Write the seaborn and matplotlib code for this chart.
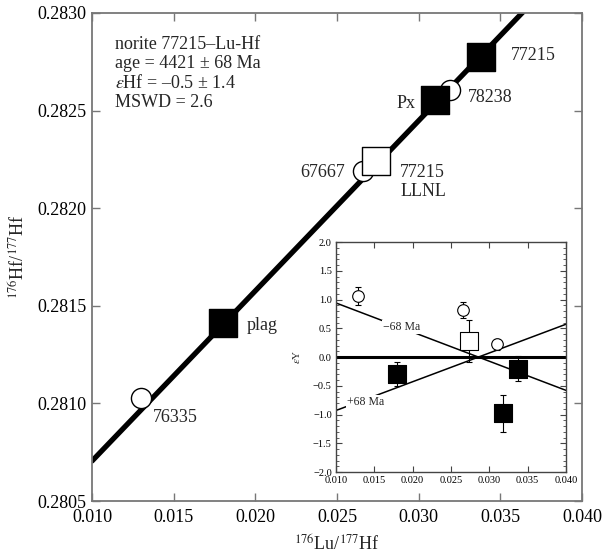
import numpy as np
import pandas as pd
import matplotlib
matplotlib.use("Agg")
import matplotlib.pyplot as plt
import seaborn as sns
from matplotlib.ticker import FormatStrFormatter, FuncFormatter, MultipleLocator

# main isochron data
samples = ["76335", "plag", "67667", "77215\nLLNL", "Px", "78238", "77215"]
lu_hf = [0.0130, 0.0180, 0.0266, 0.0274, 0.0310, 0.0319, 0.0338]
hf_hf = [0.281028, 0.281413, 0.282192, 0.282244, 0.282556, 0.282608, 0.282772]
kinds = ["circle", "filled", "circle", "open", "filled", "circle", "filled"]

iso_x = [0.010, 0.040]
iso_y = [0.280705, 0.283320]

# inset epsilon data
eps_x = [0.0129, 0.0266, 0.0273, 0.0310, 0.0179, 0.0318, 0.0338]
eps_y = [1.06, 0.81, 0.28, 0.22, -0.30, -0.98, -0.20]
eps_err = [0.15, 0.14, 0.36, 0.10, 0.21, 0.32, 0.21]
eps_kind = ["circle", "circle", "open", "circle", "filled", "filled", "filled"]

ref_x = [0.010, 0.040]
minus68_y = [0.94, -0.58]
plus68_y = [-0.93, 0.57]

sns.set_style("ticks")
plt.rcParams['font.family'] = ['Liberation Serif', 'DejaVu Serif']
plt.rcParams['mathtext.fontset'] = 'stix'

df = pd.DataFrame({"x": lu_hf, "y": hf_hf, "kind": kinds, "name": samples})
edf = pd.DataFrame({"x": eps_x, "y": eps_y, "err": eps_err, "kind": eps_kind})

fig = plt.figure(figsize=(6.03, 5.57), dpi=100)
ax = fig.add_axes([0.1526, 0.1005, 0.8126, 0.8762])

sns.lineplot(x=iso_x, y=iso_y, ax=ax, color="black", linewidth=3.8, zorder=2)

styles = {
    "circle": dict(marker="o", s=210, color="white", edgecolor="black", linewidth=1.0),
    "filled": dict(marker="s", s=380, color="black", edgecolor="black", linewidth=1.0),
    "open": dict(marker="s", s=380, color="white", edgecolor="black", linewidth=1.0),
}
for k, st in styles.items():
    sub = df[df.kind == k]
    sns.scatterplot(data=sub, x="x", y="y", ax=ax, zorder=3, legend=False, **st)

# label offsets in pixels (dx, dy, ha)
offs = {
    "76335": (12, -20, "left"),
    "plag": (24, -3, "left"),
    "67667": (-18, -2, "right"),
    "77215\nLLNL": (24, -21, "left"),
    "Px": (-20, -4, "right"),
    "78238": (18, -8, "left"),
    "77215": (30, 2, "left"),
}
for name, x, y in zip(samples, lu_hf, hf_hf):
    dx, dy, ha = offs[name]
    ax.annotate(name, (x, y), xytext=(dx, dy), textcoords="offset pixels",
                ha=ha, va="center", fontsize=13, linespacing=1.15)

ax.text(0.047, 0.952, "norite 77215\u2013Lu-Hf\nage = 4421 \u00b1 68 Ma\n"
        "$\\varepsilon$Hf = \u20130.5 \u00b1 1.4\nMSWD = 2.6",
        transform=ax.transAxes, ha="left", va="top", fontsize=13, linespacing=1.15)

ax.set_xlim(0.010, 0.040)
ax.set_ylim(0.2805, 0.2830)
ax.xaxis.set_major_locator(MultipleLocator(0.005))
ax.yaxis.set_major_locator(MultipleLocator(0.0005))
ax.xaxis.set_major_formatter(FormatStrFormatter("%.3f"))
ax.yaxis.set_major_formatter(FormatStrFormatter("%.4f"))
ax.tick_params(direction="in", length=6, width=1, colors="#777777", labelcolor="black",
               labelsize=13, top=True, right=True, pad=4)
ax.tick_params(axis="x", pad=6)
for sp in ax.spines.values():
    sp.set_color("#777777")
    sp.set_linewidth(1.3)
ax.set_xlabel("$^{176}$Lu/$^{177}$Hf", fontsize=13, labelpad=6)
ax.set_ylabel("$^{176}$Hf/$^{177}$Hf", fontsize=13, labelpad=6)

# inset
ins = fig.add_axes([0.5572, 0.1526, 0.3814, 0.4129])
ins.axhline(0, color="black", linewidth=2.2, zorder=2)
sns.lineplot(x=ref_x, y=minus68_y, ax=ins, color="black", linewidth=1.1, zorder=2)
sns.lineplot(x=ref_x, y=plus68_y, ax=ins, color="black", linewidth=1.1, zorder=2)
ins.errorbar(edf.x, edf.y, yerr=edf.err, fmt="none", ecolor="black",
             elinewidth=0.8, capsize=2, capthick=0.8, zorder=3)
istyles = {
    "circle": dict(marker="o", s=70, color="white", edgecolor="black", linewidth=0.8),
    "filled": dict(marker="s", s=180, color="black", edgecolor="black", linewidth=0.8),
    "open": dict(marker="s", s=180, color="white", edgecolor="black", linewidth=0.8),
}
for k, st in istyles.items():
    sub = edf[edf.kind == k]
    sns.scatterplot(data=sub, x="x", y="y", ax=ins, zorder=4, legend=False, **st)

ins.text(0.0161, 0.52, "\u221268 Ma", fontsize=8.5, ha="left", va="center",
         bbox=dict(facecolor="white", edgecolor="none", pad=0.5))
ins.text(0.0114, -0.78, "+68 Ma", fontsize=8.5, ha="left", va="center",
         bbox=dict(facecolor="white", edgecolor="none", pad=0.5))

ins.set_xlim(0.010, 0.040)
ins.set_ylim(-2.0, 2.0)
ins.xaxis.set_major_locator(MultipleLocator(0.005))
ins.yaxis.set_major_locator(MultipleLocator(0.5))
ins.yaxis.set_minor_locator(MultipleLocator(0.1))
ins.xaxis.set_major_formatter(FormatStrFormatter("%.3f"))
ins.yaxis.set_major_formatter(FuncFormatter(lambda v, p: f"{v:.1f}".replace("-", "\u2212")))
ins.tick_params(which="both", direction="in", top=True, right=True, colors="#444444",
                labelcolor="black", labelsize=7.5, pad=3)
ins.tick_params(which="major", length=4, width=0.8)
ins.tick_params(which="minor", length=2, width=0.6)
ins.tick_params(axis="x", which="minor", bottom=False, top=False)
for sp in ins.spines.values():
    sp.set_color("#444444")
    sp.set_linewidth(1.0)
ins.set_xlabel("")
ins.set_ylabel("$\\varepsilon$Y", fontsize=8, labelpad=8)

fig.savefig("out.png", dpi=100)
